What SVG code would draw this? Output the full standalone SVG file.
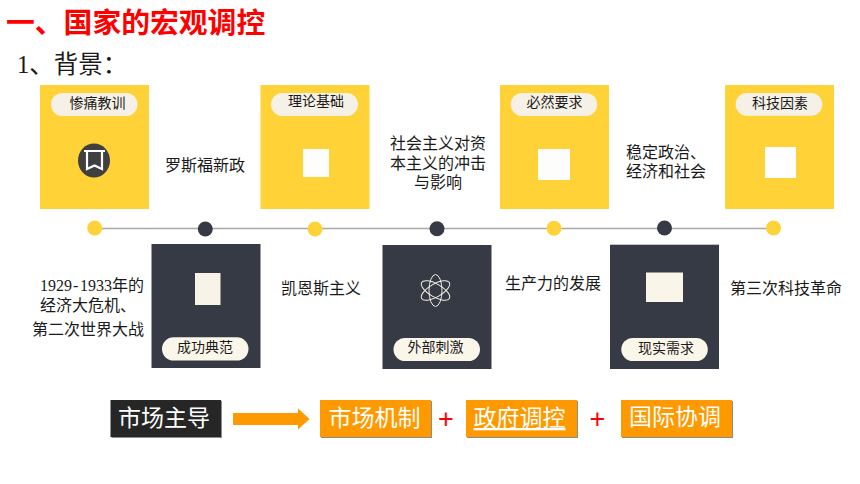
<svg xmlns="http://www.w3.org/2000/svg" width="860" height="484" viewBox="0 0 860 484">
<style>
text{font-family:"Liberation Serif","Noto Sans CJK SC",serif;fill:#1a1a1a}
.cjk{font-family:"Noto Sans CJK SC",sans-serif}
.lab{font-size:16px}
.pill-t{font-size:14px;text-anchor:middle}
.y{fill:#ffd338}
.d{fill:#363a45}
.py{fill:#f6f1e6}
.pd{fill:#fbf6ea}
.big{font-size:23px;fill:#fff;text-anchor:middle}
.sh{fill:#8c8c8c}
.or{fill:#ff9900}
.plus{font-family:"Liberation Sans",sans-serif;font-size:27px;fill:#ff0000;text-anchor:middle}
</style>
<rect width="860" height="484" fill="#fff"/>
<g id="title"><text class="cjk" x="6" y="32.500" font-size="28.800" font-weight="700" style="fill:#ff0000">一、国家的宏观调控</text></g>
<g id="subtitle"><text x="17" y="73" font-size="24.500">1<tspan class="cjk">、背景：</tspan></text></g>

<g id="connectors">
<line x1="95" y1="228.500" x2="773" y2="228.500" stroke="#a9a9a9" stroke-width="1.300"/>
<path d="M233 413H298V408.500L309.500 419L298 429.500V425H233Z" fill="#ff9900"/>
</g>

<g id="timeline-dots">
<circle class="y" cx="94.700" cy="228" r="7.500"/>
<circle class="d" cx="205.300" cy="229" r="7.500"/>
<circle class="y" cx="315" cy="229" r="7.500"/>
<circle class="d" cx="437" cy="228.700" r="7.500"/>
<circle class="y" cx="554" cy="228.300" r="7.500"/>
<circle class="d" cx="664.500" cy="228" r="7.500"/>
<circle class="y" cx="773.500" cy="228" r="7.500"/>
</g>

<g id="card-1">
<rect class="y" x="40" y="85" width="109" height="124"/>
<rect class="py" x="51" y="93" width="86.500" height="23" rx="11.500"/>
<text class="pill-t cjk" x="97.500" y="108">惨痛教训</text>
<ellipse cx="94" cy="160.500" rx="16" ry="17" fill="#404040"/>
<path d="M84 151H105M87 151.500V169L94.500 165.500L102 169V151.500" fill="none" stroke="#fff" stroke-width="2.200"/>
</g>
<g id="card-2">
<rect class="d" x="151.500" y="244" width="109" height="124"/>
<rect x="195" y="273" width="25.500" height="32" fill="#f8f3e7"/>
<rect class="pd" x="162" y="337.300" width="86.500" height="23.300" rx="11.600"/>
<text class="pill-t cjk" x="205" y="352">成功典范</text>
</g>
<g id="card-3">
<rect class="y" x="260.500" y="85" width="109" height="124"/>
<rect class="py" x="271" y="93" width="87" height="23" rx="11.500"/>
<text class="pill-t cjk" x="316" y="106">理论基础</text>
<rect x="303" y="149" width="26" height="28" fill="#fdfdfb"/>
</g>
<g id="card-4">
<rect class="d" x="382.500" y="245" width="109" height="124"/>
<g fill="none" stroke="#f1eee4" stroke-width="1">
<ellipse cx="435.500" cy="290.500" rx="6.500" ry="16"/>
<ellipse cx="435.500" cy="290.500" rx="6.500" ry="16" transform="rotate(60 435.500 290.500)"/>
<ellipse cx="435.500" cy="290.500" rx="6.500" ry="16" transform="rotate(-60 435.500 290.500)"/>
</g>
<rect class="pd" x="393.500" y="338" width="86.500" height="23" rx="11.500"/>
<text class="pill-t cjk" x="435.500" y="352">外部刺激</text>
</g>
<g id="card-5">
<rect class="y" x="500" y="85" width="109" height="124"/>
<rect class="py" x="510.700" y="93" width="86.500" height="23" rx="11.500"/>
<text class="pill-t cjk" x="554.500" y="107">必然要求</text>
<rect x="538" y="149" width="32" height="31" fill="#fdfdfb"/>
</g>
<g id="card-6">
<rect class="d" x="610" y="244.700" width="109" height="124.300"/>
<rect x="646" y="272.500" width="37" height="29.500" fill="#f9f5e9"/>
<rect class="pd" x="621.300" y="338" width="86.500" height="23" rx="11.500"/>
<text class="pill-t cjk" x="666" y="353">现实需求</text>
</g>
<g id="card-7">
<rect class="y" x="725" y="85" width="109" height="124"/>
<rect class="py" x="735.700" y="93" width="86.500" height="22.700" rx="11.300"/>
<text class="pill-t cjk" x="780" y="108">科技因素</text>
<rect x="765" y="147" width="31" height="31" fill="#fff"/>
</g>

<g id="label-rosevelt"><text class="lab cjk" x="165" y="171">罗斯福新政</text></g>
<g id="label-crisis">
<text class="lab" x="40 48 56 64 73 80 88 96 104 112 128" y="291">1929-1933<tspan class="cjk">年的</tspan></text>
<text class="lab cjk" x="40" y="311">经济大危机、</text>
<text class="lab cjk" x="32" y="335">第二次世界大战</text>
</g>
<g id="label-keynes"><text class="lab cjk" x="281" y="294">凯恩斯主义</text></g>
<g id="label-socialism">
<text class="lab cjk" x="390" y="148.500">社会主义对资</text>
<text class="lab cjk" x="390" y="168.500">本主义的冲击</text>
<text class="lab cjk" x="414" y="188">与影响</text>
</g>
<g id="label-productivity"><text class="lab cjk" x="505" y="289">生产力的发展</text></g>
<g id="label-stability">
<text class="lab cjk" x="626" y="157.500">稳定政治、</text>
<text class="lab cjk" x="626" y="177">经济和社会</text>
</g>
<g id="label-third"><text class="lab cjk" x="730" y="294">第三次科技革命</text></g>

<g id="box-market-led">
<rect class="sh" x="111.500" y="401" width="110.500" height="37"/>
<rect x="110.500" y="400" width="110.500" height="37" fill="#262626"/>
<text class="big cjk" x="164" y="426">市场主导</text>
</g>
<g id="box-mechanism">
<rect class="sh" x="321" y="401" width="111" height="37"/>
<rect class="or" x="320" y="400" width="111" height="37"/>
<text class="big cjk" x="374.500" y="426">市场机制</text>
</g>
<g id="plus-1"><text class="plus" x="446" y="428">+</text></g>
<g id="box-government">
<rect class="sh" x="467" y="401" width="111" height="37"/>
<rect class="or" x="466" y="400" width="111" height="37"/>
<text class="big cjk" x="519.500" y="426" text-decoration="underline">政府调控</text>
</g>
<g id="plus-2"><text class="plus" x="597.500" y="428">+</text></g>
<g id="box-international">
<rect class="sh" x="622" y="401" width="111" height="37"/>
<rect class="or" x="621" y="400" width="111" height="37"/>
<text class="big cjk" x="675" y="425">国际协调</text>
</g>
</svg>
